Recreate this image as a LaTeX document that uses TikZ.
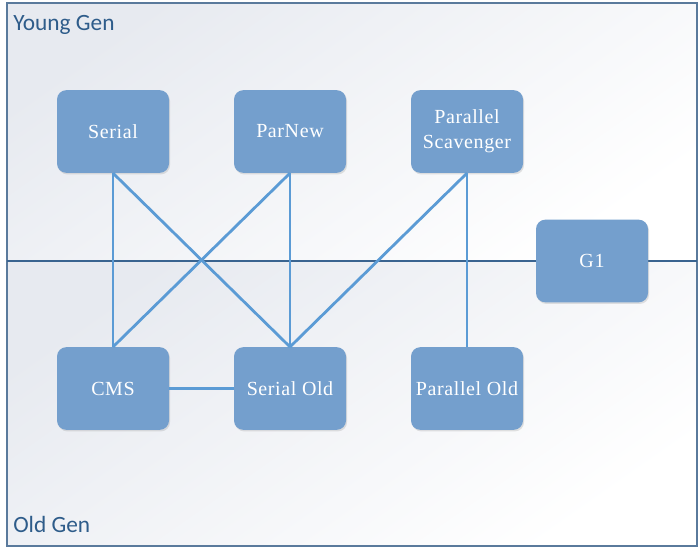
\documentclass[tikz,border=0pt]{standalone}
\usepackage{fontspec}
\setmainfont{Liberation Serif}[LetterSpace=3]
\newfontfamily\labelfont{Carlito}
\usetikzlibrary{shadows}
\definecolor{boxfill}{HTML}{749FCD}
\definecolor{linkblue}{HTML}{5B9BD5}
\definecolor{framec}{HTML}{5A7A9C}
\definecolor{divc}{HTML}{3A6490}
\definecolor{bgtop}{HTML}{E7EAF0}
\definecolor{labelc}{HTML}{2E5C8A}
\tikzset{
  gcbox/.style={draw=none, fill=boxfill, rounded corners=7pt, minimum width=84pt, minimum height=62pt,
    text=white, font=\fontsize{15}{19}\selectfont, align=center,
    drop shadow={opacity=0.22, shadow xshift=0.8pt, shadow yshift=-1.2pt}},
  link/.style={draw=linkblue, line width=2.1pt},
  genlabel/.style={text=labelc, font=\labelfont\fontsize{17.5}{19}\selectfont, anchor=base west, inner sep=0pt},
}
\begin{document}
\begin{tikzpicture}[x=0.75pt, y=-0.75pt]
\useasboundingbox (0,0) rectangle (699,551);
% backgrounds
\shade[top color=bgtop, bottom color=white, shading angle=35] (7,3) rectangle (697,261);
\shade[top color=bgtop, bottom color=white, shading angle=35] (7,261) rectangle (697,546);
\draw[framec, line width=0.9pt] (7,3) rectangle (697,546);
\draw[divc, line width=0.9pt] (7,261) -- (697,261);
\node[genlabel] (yg) at (13,30) {Young Gen};
\node[genlabel] (og) at (13,532) {Old Gen};
% nodes
\node[gcbox] (serial) at (113,131.5) {Serial};
\node[gcbox] (parnew) at (290,131.5) {ParNew};
\node[gcbox] (pscav) at (467,131.5) {Parallel\\Scavenger};
\node[gcbox] (g1) at (592,261) {G1};
\node[gcbox] (cms) at (113,388.5) {CMS};
\node[gcbox] (sold) at (290,388.5) {Serial Old};
\node[gcbox] (pold) at (467,388.5) {Parallel Old};
% links
\draw[link] (serial.south) -- (cms.north);
\draw[link] (serial.south) -- (sold.north);
\draw[link] (parnew.south) -- (cms.north);
\draw[link] (parnew.south) -- (sold.north);
\draw[link] (pscav.south) -- (sold.north);
\draw[link] (pscav.south) -- (pold.north);
\draw[link] (cms.east) -- (sold.west);
\end{tikzpicture}
\end{document}
